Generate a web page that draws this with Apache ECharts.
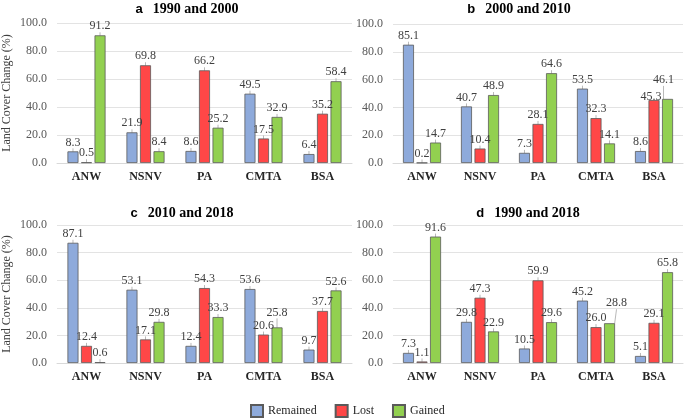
<!DOCTYPE html>
<html><head><meta charset="utf-8">
<script src="https://cdn.jsdelivr.net/npm/echarts@6/dist/echarts.min.js"></script>
<style>html,body{margin:0;padding:0;background:#fff}#c{width:685px;height:419px}</style>
</head><body><div id="c"></div>
<script>
const categories = ['ANW','NSNV','PA','CMTA','BSA'];
const seriesNames = ['Remained','Lost','Gained'];
const yTicks = [0,20,40,60,80,100];
const panelLetters = ['a','b','c','d'];
const panelPeriods = ['1990 and 2000','2000 and 2010','2010 and 2018','1990 and 2018'];
// panel a
const remainedA = [8.3,21.9,8.6,49.5,6.4];
const lostA     = [0.5,69.8,66.2,17.5,35.2];
const gainedA   = [91.2,8.4,25.2,32.9,58.4];
// panel b
const remainedB = [85.1,40.7,7.3,53.5,8.6];
const lostB     = [0.2,10.4,28.1,32.3,45.3];
const gainedB   = [14.7,48.9,64.6,14.1,46.1];
// panel c
const remainedC = [87.1,53.1,12.4,53.6,9.7];
const lostC     = [12.4,17.1,54.3,20.6,37.7];
const gainedC   = [0.6,29.8,33.3,25.8,52.6];
// panel d
const remainedD = [7.3,29.8,10.5,45.2,5.1];
const lostD     = [1.1,47.3,59.9,26.0,29.1];
const gainedD   = [91.6,22.9,29.6,28.8,65.8];

const panels = [
  [remainedA,lostA,gainedA],
  [remainedB,lostB,gainedB],
  [remainedC,lostC,gainedC],
  [remainedD,lostD,gainedD]
];
// label nudges (styling only): key = panel-series-dataIndex
const labelNudges = {'1-2-4':[-4,-10,true],'1-1-4':[-3,6,false],'2-2-3':[0,-6,true],'3-2-3':[7,-11,true]};

const colors = ['#8eaadb','#ff4747','#92d050'];
const serif = '"Liberation Serif", "Times New Roman", serif';
const grids = [
  {left:52, right:333, top:23, bottom:256},
  {left:393, right:2, top:24, bottom:256},
  {left:52, right:333, top:225, bottom:56},
  {left:393, right:2, top:225, bottom:56}
];
const titlePos = [{x:187,y:0},{x:519,y:0},{x:182,y:204},{x:528,y:204}];

const option = {
  animation:false,
  backgroundColor:'#fff',
  title: panels.map((p,i)=>({
    text:'{l|'+panelLetters[i]+'}  {t|'+panelPeriods[i]+'}',
    left:titlePos[i].x, top:titlePos[i].y, textAlign:'center', padding:0,
    textStyle:{rich:{
      l:{fontFamily:'"Liberation Sans", Arial, sans-serif',fontWeight:'bold',fontSize:13,color:'#000',lineHeight:15},
      t:{fontFamily:serif,fontWeight:'bold',fontSize:14,color:'#000',lineHeight:15}
    }}
  })),
  legend:{
    data:seriesNames, top:404, left:250, padding:0, itemWidth:12, itemHeight:12, itemGap:18,
    icon:'rect',
    textStyle:{fontFamily:serif,fontSize:12,color:'#262626'}
  },
  grid: grids,
  xAxis: grids.map((g,i)=>({
    type:'category', gridIndex:i, data:categories,
    axisLine:{lineStyle:{color:'#d9d9d9'}}, axisTick:{show:false},
    axisLabel:{fontFamily:serif,fontWeight:'bold',fontSize:12,color:'#262626',margin:8}
  })),
  yAxis: grids.map((g,i)=>({
    type:'value', gridIndex:i, min:yTicks[0], max:yTicks[yTicks.length-1], interval:20,
    name:(i%2===0)?'Land Cover Change (%)':'', nameLocation:'middle', nameGap:44,
    nameTextStyle:{fontFamily:serif,fontSize:12,color:'#404040'},
    axisLine:{show:false}, axisTick:{show:false},
    axisLabel:{fontFamily:serif,fontSize:12,color:'#595959',margin:10,formatter:v=>v.toFixed(1)},
    splitLine:{lineStyle:{color:'#e3e3e3'}}
  })),
  series: []
};
panels.forEach((p,i)=>{
  p.forEach((vals,k)=>{
    option.series.push({
      type:'bar', name:seriesNames[k], xAxisIndex:i, yAxisIndex:i, data:vals,
      barWidth:11, barGap:'23%',
      itemStyle:{color:colors[k],borderColor:'#5a5a5a',borderWidth:0.8},
      label:{show:true,position:'top',distance:3,fontFamily:serif,fontSize:12,color:'#404040',formatter:d=>d.value.toFixed(1)},
      labelLine:{show:true,lineStyle:{color:'#a6a6a6',width:0.8}},
      labelLayout:(params)=>{
        const n = labelNudges[i+'-'+k+'-'+params.dataIndex];
        if(!n) return {};
        return {dx:n[0],dy:n[1]};
      }
    });
  });
});
const chart = echarts.init(document.getElementById('c'),null,{renderer:'canvas'});
chart.setOption(option);
</script></body></html>
